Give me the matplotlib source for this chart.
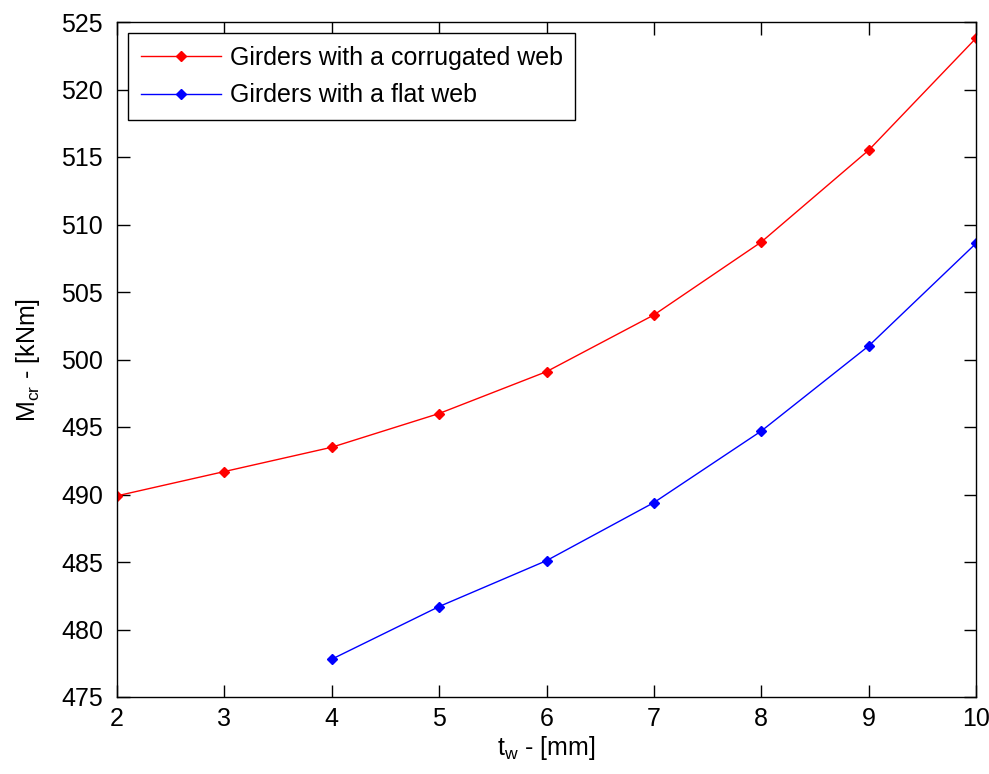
import matplotlib
matplotlib.use("Agg")
import matplotlib.pyplot as plt

plt.rcParams['font.family'] = ['Liberation Sans', 'DejaVu Sans']

tw_corr = [2, 3, 4, 5, 6, 7, 8, 9, 10]
m_corr = [489.9, 491.7, 493.5, 496.0, 499.1, 503.3, 508.7, 515.5, 523.8]
tw_flat = [4, 5, 6, 7, 8, 9, 10]
m_flat = [477.8, 481.7, 485.1, 489.4, 494.7, 501.0, 508.6]

FS = 18

fig = plt.figure(figsize=(9.89, 7.74), dpi=100)
ax = fig.add_axes([117/989, 77/774, (976-117)/989, (697-22)/774])

ax.plot(tw_corr, m_corr, color='red', lw=1.0, marker='D', ms=5, label='Girders with a corrugated web')
ax.plot(tw_flat, m_flat, color='blue', lw=1.0, marker='D', ms=5, label='Girders with a flat web')

ax.set_xlim(2, 10)
ax.set_ylim(475, 525)
ax.set_xticks(range(2, 11))
ax.set_yticks(range(475, 526, 5))
ax.tick_params(direction='in', top=True, right=True, labelsize=FS, length=9, width=1)
ax.tick_params(axis='y', pad=10)
ax.tick_params(axis='x', pad=7)
for s in ax.spines.values():
    s.set_linewidth(1.0)

ax.set_xlabel(r'$\mathregular{t_w}$ - [mm]', fontsize=FS, labelpad=2)
ax.set_ylabel(r'$\mathregular{M_{cr}}$ - [kNm]', fontsize=FS, labelpad=14)

leg = ax.legend(loc='upper left', fontsize=FS, fancybox=False, framealpha=1,
                edgecolor='black', borderaxespad=0.45, borderpad=0.5,
                handlelength=3.2, handletextpad=0.35, labelspacing=0.55)
leg.get_frame().set_linewidth(1.0)

fig.savefig('out.png', dpi=100)
